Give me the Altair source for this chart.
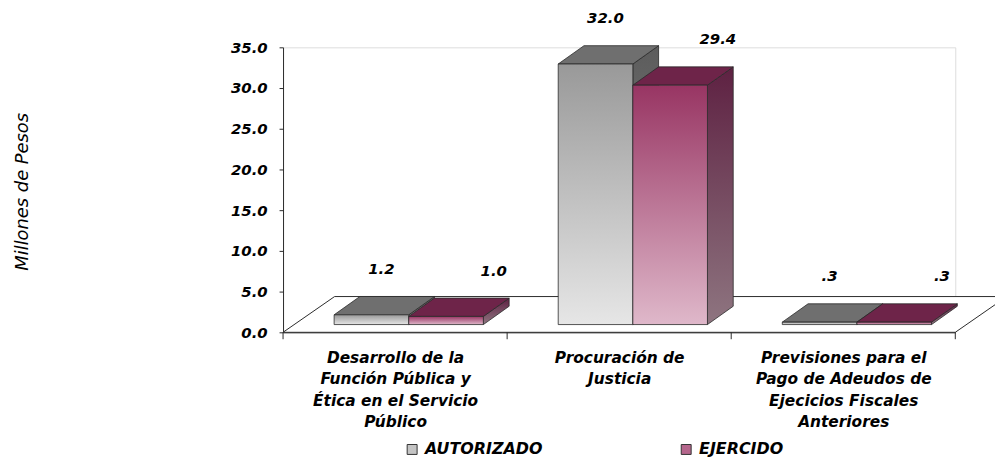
import json
import altair as alt
import pandas as pd

# ---------------- data ----------------
categories = [
    ["Desarrollo de la", "Función Pública y", "Ética en el Servicio", "Público"],
    ["Procuración de", "Justicia"],
    ["Previsiones para el", "Pago de Adeudos de", "Ejecicios Fiscales", "Anteriores"],
]
series = ["AUTORIZADO", "EJERCIDO"]
autorizado = [1.2, 32.0, 0.3]
ejercido = [1.0, 29.4, 0.3]
y_ticks = [0, 5, 10, 15, 20, 25, 30, 35]
x_ticks = [0, 1, 2, 3]            # category boundaries on the floor edge
x_label_pos = [0.5, 1.5, 2.5]     # category centres

# ---------------- 3D geometry (data units) ----------------
GAP, BW = 0.228, 0.333      # bar start inside category, bar width
DX, DY = 0.115, 2.25        # bar depth offset
BASE = 0.95                 # bars stand a little behind the floor front edge
FLOOR_DX, FLOOR_DY = 0.23, 4.39
TICK_LEN = 0.85

front_rows, top_rows, side_rows, label_rows = [], [], [], []
for i in range(len(categories)):
    for s, (name, vals) in enumerate(zip(series, [autorizado, ejercido])):
        v = vals[i]
        x0 = i + GAP + s * BW
        x1 = x0 + BW
        bar = f"{i}-{s}"
        front_rows.append(dict(bar=bar, series=name, x=x0, x2=x1, y=BASE, y2=BASE + v))
        top_rows.append(dict(bar=bar, series=name, x=x0, x2=x1, y=BASE + v))
        top_rows.append(dict(bar=bar, series=name, x=x0 + DX, x2=x1 + DX, y=BASE + v + DY))
        side_rows.append(dict(bar=bar, series=name, x=x1, y=BASE, y2=BASE + v))
        side_rows.append(dict(bar=bar, series=name, x=x1 + DX, y=BASE + DY, y2=BASE + v + DY))
        label_rows.append(dict(series=name, x=(x0 + x1) / 2, y=BASE + v,
                               label=f"{v:.1f}".lstrip("0")))

front = pd.DataFrame(front_rows)
tops = pd.DataFrame(top_rows)
sides = pd.DataFrame(side_rows)
labels = pd.DataFrame(label_rows)
floor = pd.DataFrame([
    dict(x=0.0, x2=3.0, y=0.0),
    dict(x=FLOOR_DX, x2=3.0 + FLOOR_DX, y=FLOOR_DY),
])
ticks_df = pd.DataFrame({"x": x_ticks, "y": [0.0] * 4, "y2": [-TICK_LEN] * 4})
legend_df = pd.DataFrame({"series": series})

FONT = "DejaVu Sans"
EDGE = "#2a2a2a"

xscale = alt.Scale(domain=[0, 3], nice=False, zero=False)
yscale = alt.Scale(domain=[0, 35], nice=False, zero=False)

label_expr = (json.dumps(categories, ensure_ascii=False)
              + "[floor(datum.value)] || ''")

xaxis = alt.Axis(values=x_label_pos, labelExpr=label_expr, ticks=False,
                 labelPadding=18, labelFont=FONT, labelFontSize=15.5,
                 labelFontStyle="italic", labelFontWeight="bold", labelColor="black",
                 labelLineHeight=21.7, labelFlush=False, labelOverlap=False,
                 labelBound=False, labelAlign="center", labelBaseline="top",
                 labelLimit=400, grid=False, title=None, domainColor=EDGE,
                 domainWidth=1)
yaxis = alt.Axis(values=y_ticks, format=".1f", tickSize=4, labelPadding=12,
                 labelFont=FONT, labelFontSize=15, labelFontStyle="italic",
                 labelFontWeight="bold", labelColor="black", grid=False,
                 domainColor=EDGE, tickColor=EDGE, title="Millones de Pesos",
                 titleFont=FONT, titleFontSize=18, titleFontStyle="italic",
                 titleFontWeight="normal", titleColor="black", titleAngle=270,
                 titleX=-262, titleY=145, titleAlign="center", titleBaseline="middle")

X = alt.X("x:Q", scale=xscale, axis=xaxis)
Y = alt.Y("y:Q", scale=yscale, axis=yaxis)


def grad(c_top, c_bottom):
    return alt.Gradient(gradient="linear",
                        stops=[alt.GradientStop(color=c_top, offset=0),
                               alt.GradientStop(color=c_bottom, offset=1)],
                        x1=0, x2=0, y1=0, y2=1)


floor_layer = alt.Chart(floor).mark_area(
    orient="horizontal", fill="white", stroke=EDGE, strokeWidth=1
).encode(x=X, x2="x2:Q", y=Y)

tick_layer = alt.Chart(ticks_df).mark_rule(color=EDGE, strokeWidth=1).encode(
    x=X, y=Y, y2="y2:Q")

styles = {
    "AUTORIZADO": dict(front=grad("#999999", "#e6e6e6"), top="#6f6f6f",
                       side=grad("#5c5c5c", "#8a8a8a"), dx=10),
    "EJERCIDO": dict(front=grad("#983563", "#dfb8ca"), top="#6e2449",
                     side=grad("#5e2142", "#8e7580"), dx=48),
}

layers = [floor_layer, tick_layer]
for name in series:
    st = styles[name]
    flt = alt.datum.series == name
    layers.append(
        alt.Chart(sides).transform_filter(flt).mark_area(
            orient="vertical", fill=st["side"], stroke=EDGE, strokeWidth=0.8
        ).encode(x=X, y=Y, y2="y2:Q", detail="bar:N")
    )
    layers.append(
        alt.Chart(tops).transform_filter(flt).mark_area(
            orient="horizontal", fill=st["top"], stroke=EDGE, strokeWidth=0.8
        ).encode(x=X, x2="x2:Q", y=Y, detail="bar:N")
    )
    layers.append(
        alt.Chart(front).transform_filter(flt).mark_rect(
            fill=st["front"], stroke=EDGE, strokeWidth=0.8
        ).encode(x=X, x2="x2:Q", y=Y, y2="y2:Q")
    )

for name in series:
    st = styles[name]
    layers.append(
        alt.Chart(labels).transform_filter(alt.datum.series == name).mark_text(
            font=FONT, fontSize=15, fontStyle="italic", fontWeight="bold",
            color="black", dx=st["dx"], dy=-46, align="center", baseline="middle"
        ).encode(x=X, y=Y, text="label:N")
    )

legend_layer = alt.Chart(legend_df).mark_square(opacity=0).encode(
    x=alt.value(0), y=alt.value(0),
    color=alt.Color("series:N", scale=alt.Scale(domain=series, range=["#c4c4c4", "#b5668c"]),
                    legend=alt.Legend(orient="none", legendX=122, legendY=397,
                                      direction="horizontal", title=None,
                                      symbolType="square", symbolSize=100,
                                      symbolStrokeColor="#333", symbolStrokeWidth=1,
                                      symbolOpacity=1, labelFont=FONT, labelFontSize=16,
                                      labelFontStyle="italic", labelFontWeight="bold",
                                      labelColor="black", columnPadding=136,
                                      labelOffset=5, padding=0))
)
layers.append(legend_layer)

chart = alt.layer(*layers).properties(
    width=677, height=287,
    padding={"left": 277, "top": 38, "right": 40, "bottom": 127},
    autosize=alt.AutoSizeParams(type="none"),
).configure_view(stroke="transparent").configure(background="white")

chart.save("out.html", embed_options={"renderer": "svg", "actions": False})
